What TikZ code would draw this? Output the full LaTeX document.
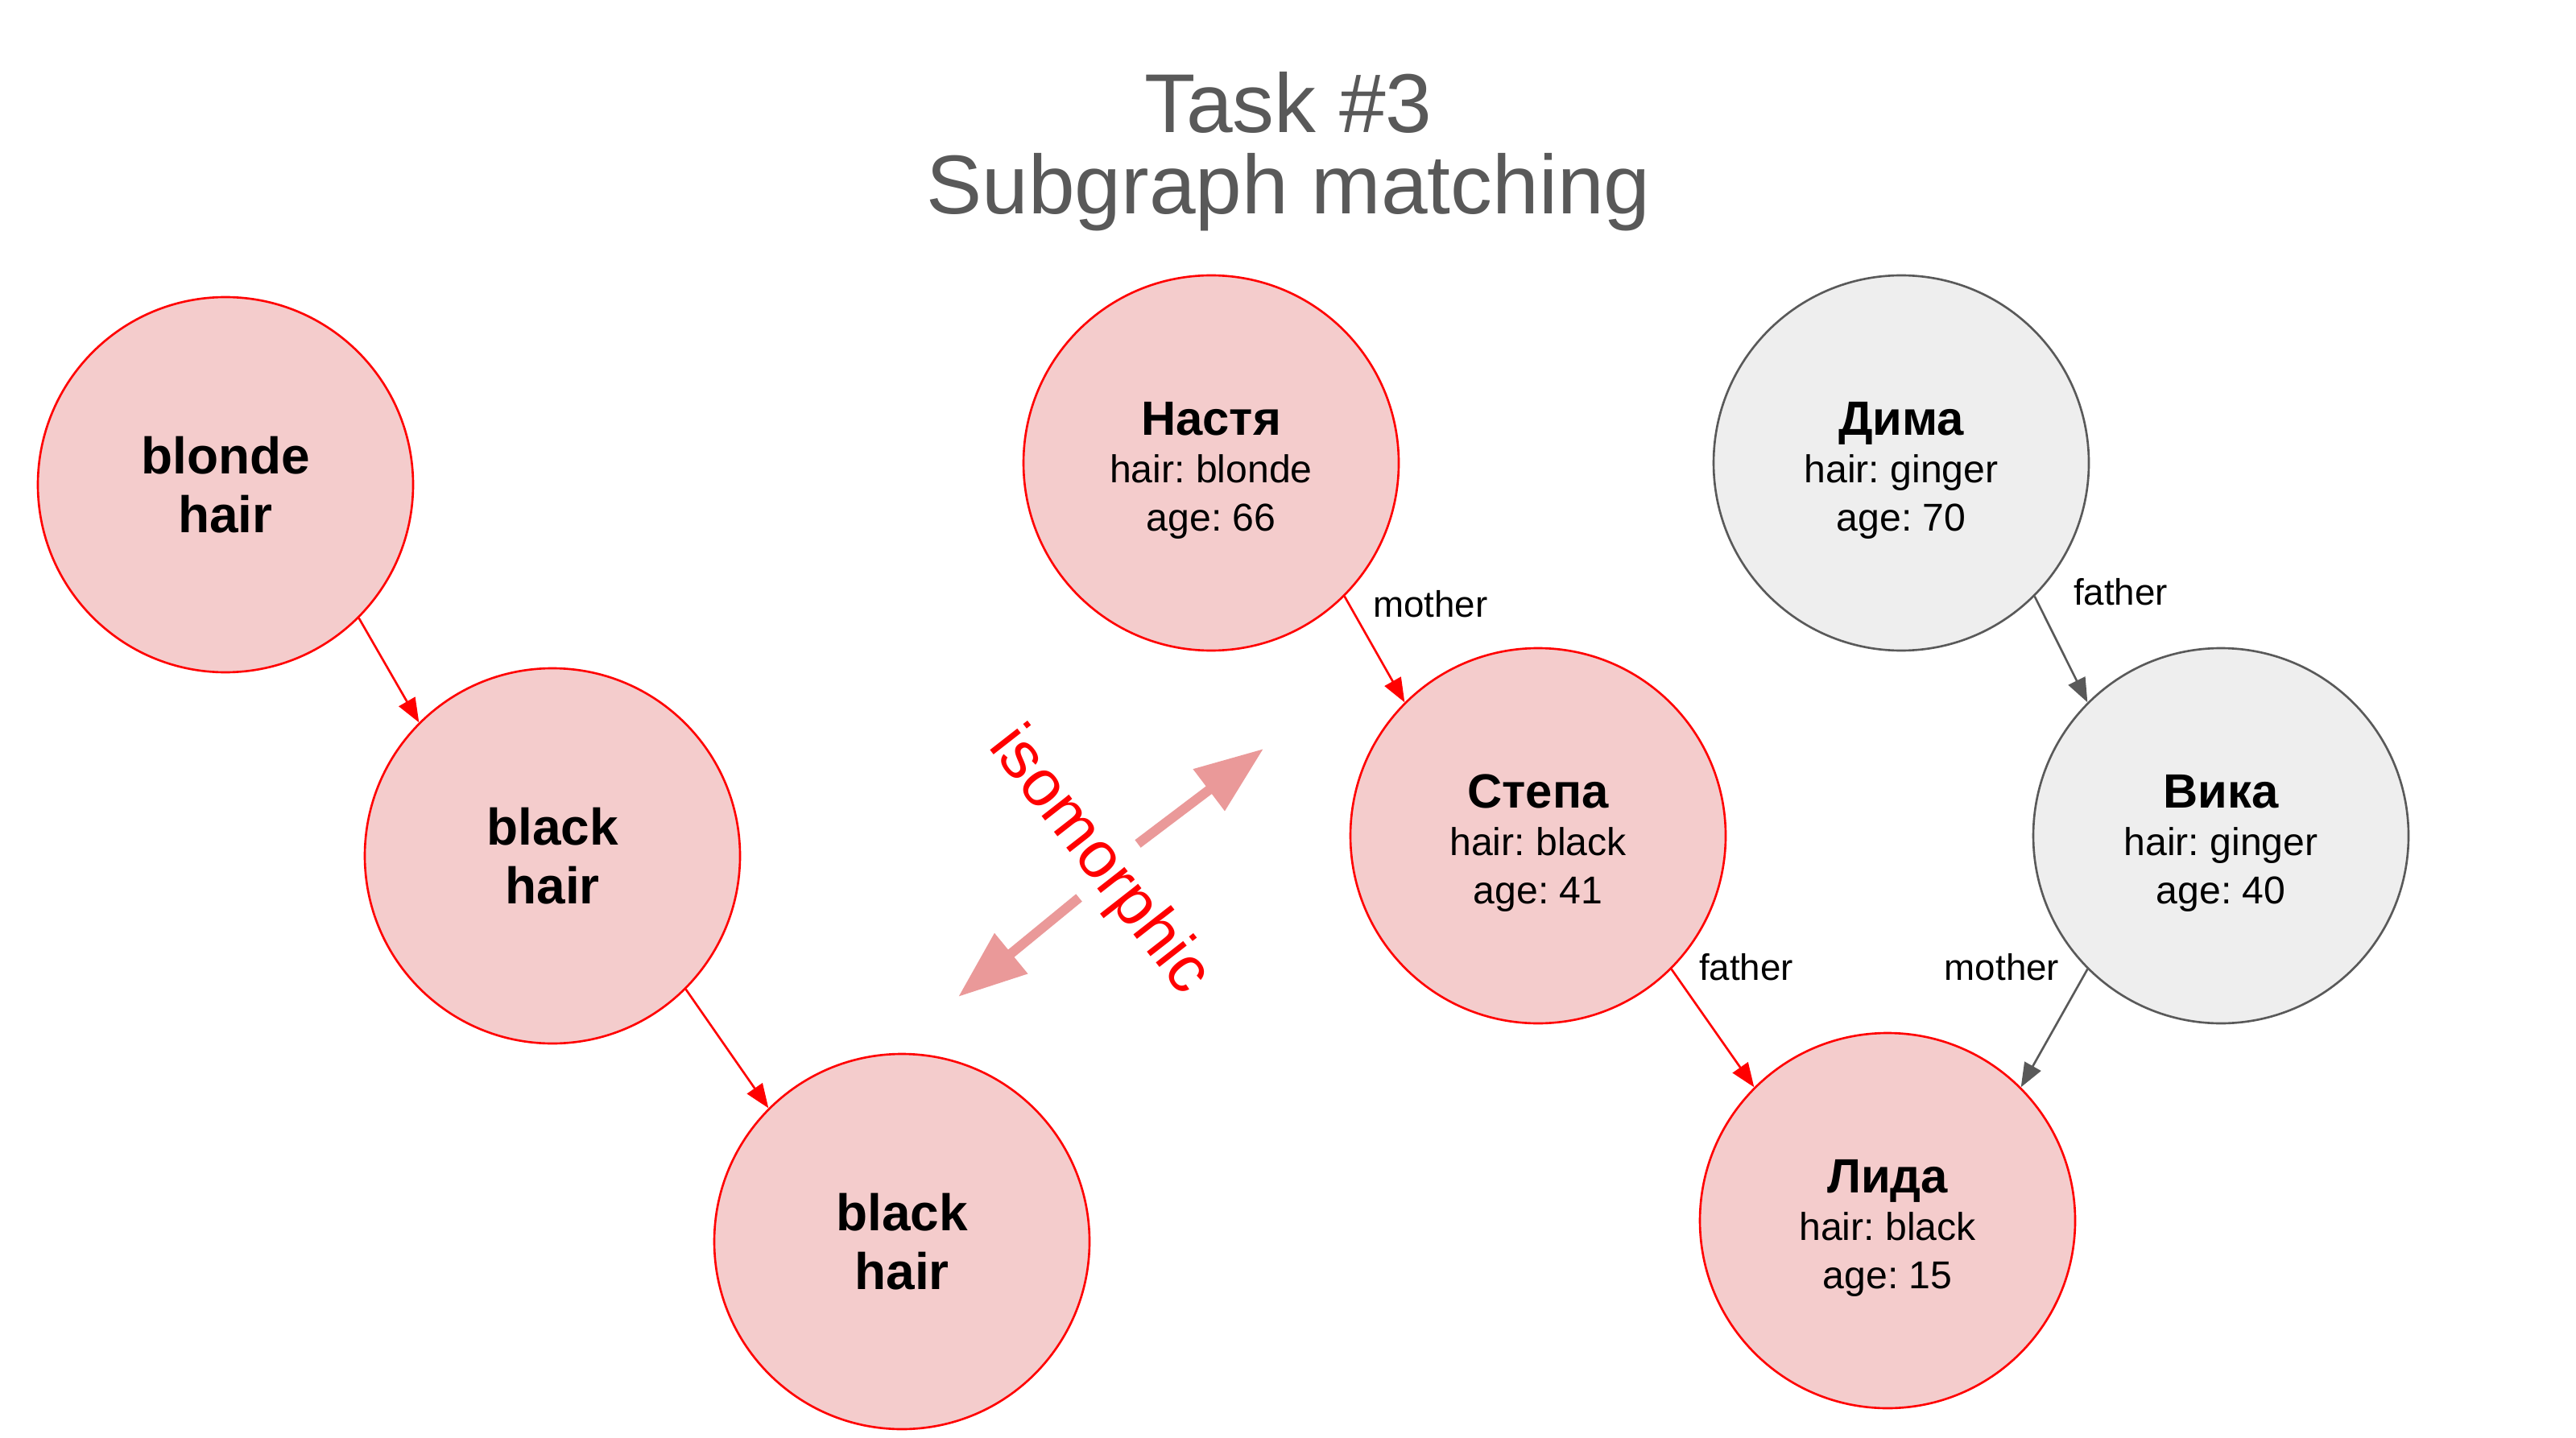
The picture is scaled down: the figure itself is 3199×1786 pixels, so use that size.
\documentclass[tikz,border=0pt]{standalone}
\usepackage{fontspec}
\setmainfont{Liberation Sans}
\usetikzlibrary{arrows.meta,positioning,calc}
\frenchspacing

\definecolor{nodepink}{HTML}{F4CCCC}
\definecolor{nodegrey}{HTML}{EEEEEE}
\definecolor{darkgrey}{HTML}{595959}
\definecolor{isopink}{HTML}{EA9999}

\newcommand{\personinfo}[3]{\rule{0pt}{17pt}{\bfseries\fontsize{17}{17.5}\selectfont #1}\\hair: #2\\age: #3}

\begin{document}
\begin{tikzpicture}[x=0.1mm, y=-0.1mm,
                    >={Triangle[length=3mm, width=2.3mm]},
                    every person/.style = {circle, minimum size=46.6mm, inner sep=0pt, line width=0.75pt, align=center,
                            font=\fontsize{13.7}{17}\selectfont},
                    match person/.style = {every person, draw=red, fill=nodepink},
                    other person/.style = {every person, draw=darkgrey, fill=nodegrey},
                    pattern/.style = {match person, font=\fontsize{18.2}{20.8}\selectfont\bfseries},
                    relation/.style = {->, line width=0.75pt},
                    match relation/.style = {relation, draw=red},
                    other relation/.style = {relation, draw=darkgrey},
                    relation label/.style = {font=\fontsize{13}{15}\selectfont, inner sep=0pt, text=black},
                    iso arrow/.style = {-{Triangle[length=8.5mm, width=6.2mm]}, line width=1.2mm, draw=isopink} ]

                \useasboundingbox (0,0) rectangle (3199,1786);

                \node [align=center, text=darkgrey, font=\fontsize{29.5}{28.7}\selectfont] (title) at (1600,188) {Task \#3\\Subgraph matching};

                % pattern
                \node [pattern] (blonde) at (280,602) {blonde\\hair};
                \node [pattern] (black1) at (686,1063) {black\\hair};
                \node [pattern] (black2) at (1120,1542) {black\\hair};

                \draw [match relation] (blonde.south east) -- (black1.north west);
                \draw [match relation] (black1.south east) -- (black2.north west);

                % isomorphic
                \node [rotate=-52, text=red, inner sep=0pt, font=\fontsize{23.2}{24}\selectfont] (iso) at (1364,1070) {isomorphic};
                \coordinate (iso up start) at (1413,1048);
                \coordinate (iso up tip) at (1569,930);
                \coordinate (iso down start) at (1340,1115);
                \coordinate (iso down tip) at (1190,1238);
                \draw [iso arrow] (iso up start) -- (iso up tip);
                \draw [iso arrow] (iso down start) -- (iso down tip);

                % family graph
                \node [match person] (nastya) at (1504,575) {\personinfo{Настя}{blonde}{66}};
                \node [match person] (stepa) at (1910,1038) {\personinfo{Степа}{black}{41}};
                \node [match person] (lida) at (2344,1516) {\personinfo{Лида}{black}{15}};
                \node [other person] (dima) at (2361,575) {\personinfo{Дима}{ginger}{70}};
                \node [other person] (vika) at (2758,1038) {\personinfo{Вика}{ginger}{40}};

                \draw [match relation] (nastya.south east) -- node [relation label, pos=0, anchor=west, xshift=3.4mm, yshift=-0.95mm] {mother} (stepa.north west);
                \draw [match relation] (stepa.south east) -- node [relation label, pos=0, anchor=west, xshift=3.3mm, yshift=0.25mm] {father} (lida.north west);
                \draw [other relation] (dima.south east) -- node [relation label, pos=0, anchor=west, xshift=4.7mm, yshift=0.55mm] {father} (vika.north west);
                \draw [other relation] (vika.south west) -- node [relation label, pos=0, anchor=east, xshift=-3.4mm, yshift=0.25mm] {mother} (lida.north east);
            \end{tikzpicture}
\end{document}
